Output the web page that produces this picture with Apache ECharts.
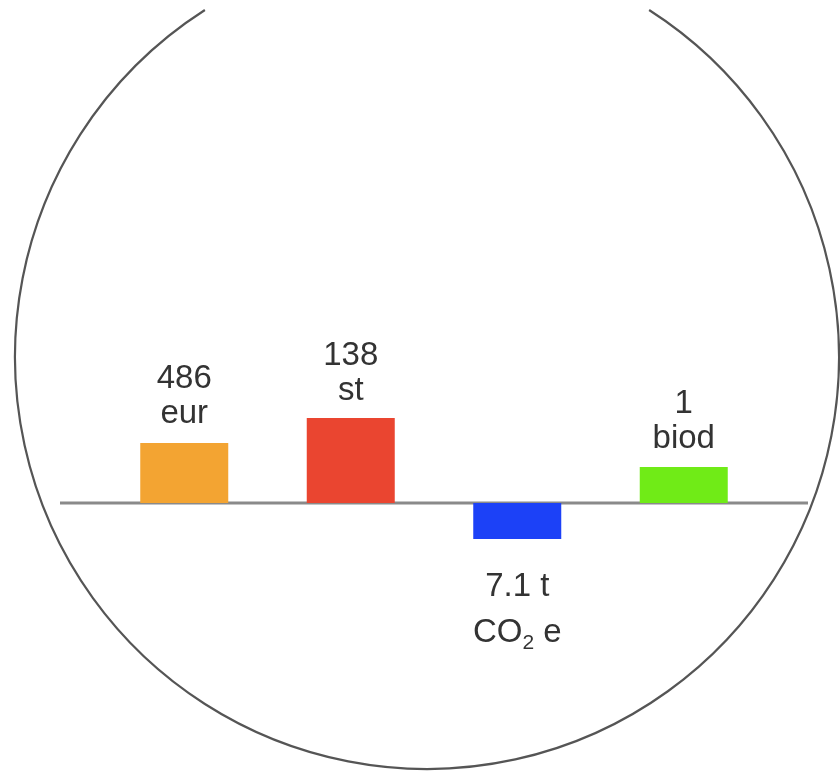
<!DOCTYPE html>
<html>
<head>
<meta charset="utf-8">
<script src="https://cdn.jsdelivr.net/npm/echarts@6/dist/echarts.min.js"></script>
<style>
html,body{margin:0;padding:0;background:#fff;}
#chart{width:840px;height:773px;}
</style>
</head>
<body>
<div id="chart"></div>
<script>
// ---- data ----
const categories = ['eur', 'st', 'CO2e', 'biod'];
const barHeights = [60, 85, -36, 36];           // relative bar sizes as drawn
const labelValues = ['486', '138', '7.1 t', '1'];
const labelUnits = ['eur', 'st', 'CO₂ e', 'biod'];
const barColors = ['#F3A432', '#EA4530', '#1C41F7', '#70EB17'];
const labelGaps = [12, 10, 25, 11];

const FONT = '"Liberation Sans", Arial, Helvetica, sans-serif';
const chart = echarts.init(document.getElementById('chart'), null, {renderer: 'canvas'});

function unitRich(i) {
  if (labelUnits[i] === 'CO₂ e') return '{u|CO}{s|2}{u| e}';
  return '{u|' + labelUnits[i] + '}';
}

const data = barHeights.map((v, i) => ({
  value: v,
  itemStyle: {color: barColors[i]},
  label: {
    show: true,
    position: v >= 0 ? 'top' : 'bottom',
    distance: labelGaps[i],
    formatter: '{v|' + labelValues[i] + '}\n' + unitRich(i),
    rich: {
      v: {fontSize: 33, fontFamily: FONT, color: '#333', lineHeight: v >= 0 ? 35 : 46},
      u: {fontSize: 33, fontFamily: FONT, color: '#333', lineHeight: v >= 0 ? 35 : 46},
      s: {fontSize: 21, fontFamily: FONT, color: '#333', padding: [20, 0, 0, 0]}
    }
  }
}));

chart.setOption({
  animation: false,
  backgroundColor: '#ffffff',
  grid: {left: 101, right: 73, top: 403, height: 200},
  xAxis: {type: 'category', data: categories, show: false},
  yAxis: {type: 'value', min: -100, max: 100, show: false},
  series: [{type: 'bar', data: data, barWidth: 88}]
});

const y0 = chart.convertToPixel({yAxisIndex: 0}, 0);
const cx = 427, cy = 357, r = 412, clipY = 10;
const a = Math.asin((clipY - cy) / r);
chart.setOption({
  graphic: [
    {type: 'arc', silent: true,
     shape: {cx: cx, cy: cy, r: r, startAngle: a, endAngle: Math.PI - a, clockwise: true},
     style: {stroke: '#555', lineWidth: 2.2, fill: null}},
    {type: 'line', silent: true, z: -1,
     shape: {x1: 60, y1: y0, x2: 808, y2: y0},
     style: {stroke: '#8a8a8a', lineWidth: 3}}
  ]
});
</script>
</body>
</html>
